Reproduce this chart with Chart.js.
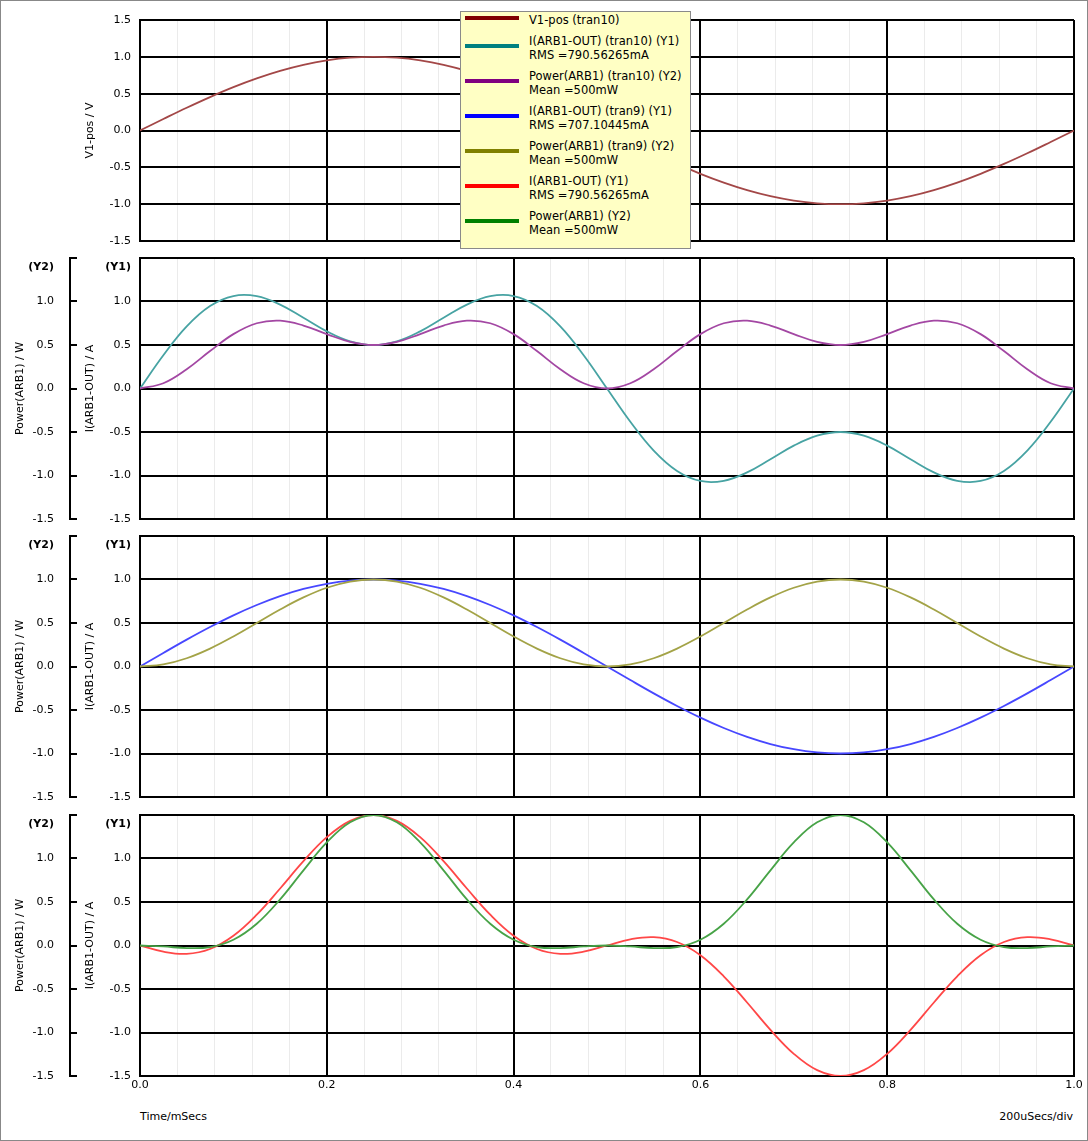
<!DOCTYPE html>
<html>
<head>
<meta charset="utf-8">
<title>ARB1 waveforms</title>
<script src="https://cdn.jsdelivr.net/npm/chart.js@4.4.1/dist/chart.umd.min.js"></script>
<style>
html, body { margin: 0; padding: 0; background: #fff; }
#frame { position: relative; width: 1088px; height: 1141px; overflow: hidden;
         font-family: "DejaVu Sans", Verdana, sans-serif; font-size: 11px; color: #000; }
#edge { position: absolute; left: 0; top: 0; width: 1088px; height: 1141px;
        box-sizing: border-box; border: 1px solid #888; }
.panel { position: absolute; left: 0; }
#legend { position: absolute; left: 460px; top: 11px; width: 231px; height: 238px;
          box-sizing: border-box; background: #ffffc4; border: 1px solid #8a8a8a; z-index: 5;
          font-size: 11.5px; }
#legend .swatch { position: absolute; left: 4px; width: 54px; height: 4px; }
#legend .txt { position: absolute; left: 68px; line-height: 14px; white-space: nowrap; }
.axisnote { position: absolute; top: 1110px; line-height: 14px; }
</style>
</head>
<body>
<div id="frame">
  <div id="edge"></div>
  <canvas id="p1" class="panel" width="1088" height="245" style="top:8px"></canvas>
  <canvas id="p2" class="panel" width="1088" height="285" style="top:246px"></canvas>
  <canvas id="p3" class="panel" width="1088" height="285" style="top:524px"></canvas>
  <canvas id="p4" class="panel" width="1088" height="297" style="top:803px"></canvas>
  <div id="legend"></div>
  <div class="axisnote" style="left:140px">Time/mSecs</div>
  <div class="axisnote" style="right:15px">200uSecs/div</div>
</div>

<script>
/* Data (time in mSecs) */

const time = [0, 0.025, 0.05, 0.075, 0.1, 0.125, 0.15, 0.175, 0.2, 0.225, 0.25, 0.275, 0.3, 0.325, 0.35, 0.375, 0.4, 0.425, 0.45, 0.475, 0.5,
              0.525, 0.55, 0.575, 0.6, 0.625, 0.65, 0.675, 0.7, 0.725, 0.75, 0.775, 0.8, 0.825, 0.85, 0.875, 0.9, 0.925, 0.95, 0.975, 1];

const v1Pos = [0, 0.156, 0.309, 0.454, 0.588, 0.707, 0.809, 0.891, 0.951, 0.988, 1, 0.988, 0.951, 0.891, 0.809, 0.707, 0.588, 0.454, 0.309, 0.156, 0,
               -0.156, -0.309, -0.454, -0.588, -0.707, -0.809, -0.891, -0.951, -0.988, -1, -0.988, -0.951, -0.891, -0.809, -0.707, -0.588, -0.454, -0.309, -0.156, 0];

const iTran10 = [0, 0.383, 0.714, 0.948, 1.063, 1.061, 0.964, 0.813, 0.657, 0.542, 0.5, 0.542, 0.657, 0.813, 0.964, 1.061, 1.063, 0.948, 0.714, 0.383, 0,
                 -0.383, -0.714, -0.948, -1.063, -1.061, -0.964, -0.813, -0.657, -0.542, -0.5, -0.542, -0.657, -0.813, -0.964, -1.061, -1.063, -0.948, -0.714, -0.383, 0];

const pTran10 = [0, 0.060, 0.221, 0.430, 0.625, 0.750, 0.780, 0.724, 0.625, 0.536, 0.5, 0.536, 0.625, 0.724, 0.780, 0.750, 0.625, 0.430, 0.221, 0.060, 0,
                 0.060, 0.221, 0.430, 0.625, 0.750, 0.780, 0.724, 0.625, 0.536, 0.5, 0.536, 0.625, 0.724, 0.780, 0.750, 0.625, 0.430, 0.221, 0.060, 0];

const iTran9 = [0, 0.156, 0.309, 0.454, 0.588, 0.707, 0.809, 0.891, 0.951, 0.988, 1, 0.988, 0.951, 0.891, 0.809, 0.707, 0.588, 0.454, 0.309, 0.156, 0,
                -0.156, -0.309, -0.454, -0.588, -0.707, -0.809, -0.891, -0.951, -0.988, -1, -0.988, -0.951, -0.891, -0.809, -0.707, -0.588, -0.454, -0.309, -0.156, 0];

const pTran9 = [0, 0.024, 0.095, 0.206, 0.345, 0.5, 0.655, 0.794, 0.905, 0.976, 1, 0.976, 0.905, 0.794, 0.655, 0.5, 0.345, 0.206, 0.095, 0.024, 0,
                0.024, 0.095, 0.206, 0.345, 0.5, 0.655, 0.794, 0.905, 0.976, 1, 0.976, 0.905, 0.794, 0.655, 0.5, 0.345, 0.206, 0.095, 0.024, 0];

const iOut = [0, -0.071, -0.096, -0.040, 0.112, 0.354, 0.655, 0.969, 1.245, 1.433, 1.5, 1.433, 1.245, 0.969, 0.655, 0.354, 0.112, -0.040, -0.096, -0.071, 0,
              0.071, 0.096, 0.040, -0.112, -0.354, -0.655, -0.969, -1.245, -1.433, -1.5, -1.433, -1.245, -0.969, -0.655, -0.354, -0.112, 0.040, 0.096, 0.071, 0];

const pOut = [0, -0.011, -0.030, -0.018, 0.066, 0.25, 0.530, 0.864, 1.184, 1.416, 1.5, 1.416, 1.184, 0.864, 0.530, 0.25, 0.066, -0.018, -0.030, -0.011, 0,
              -0.011, -0.030, -0.018, 0.066, 0.25, 0.530, 0.864, 1.184, 1.416, 1.5, 1.416, 1.184, 0.864, 0.530, 0.25, 0.066, -0.018, -0.030, -0.011, 0];

const legendNames = ["V1-pos (tran10)", "I(ARB1-OUT) (tran10) (Y1)", "Power(ARB1) (tran10) (Y2)", "I(ARB1-OUT) (tran9) (Y1)",
                     "Power(ARB1) (tran9) (Y2)", "I(ARB1-OUT) (Y1)", "Power(ARB1) (Y2)"];
const legendStats = ["", "RMS =790.56265mA", "Mean =500mW", "RMS =707.10445mA", "Mean =500mW", "RMS =790.56265mA", "Mean =500mW"];
const legendColors = ["#800000", "#008080", "#800080", "#0000ff", "#808000", "#ff0000", "#008000"];
const traceColors  = ["#a34747", "#47a3a3", "#a347a3", "#4747ff", "#a3a347", "#ff4747", "#47a347"];


/* Defaults */

const FONT = "'DejaVu Sans', Verdana, sans-serif";
Chart.defaults.font.family = FONT;
Chart.defaults.font.size = 11;
Chart.defaults.color = "#000";

const isMajor = v => Math.abs(v * 5 - Math.round(v * 5)) < 1e-6;
const pts = arr => time.map((t, i) => ({ x: t, y: arr[i] }));


/* Scales */

function xScale(showLabels) {
    return {
        type: "linear", min: 0, max: 1,
        border: { color: "#000", width: 2 },
        grid: {
            drawTicks: false,
            color: c => isMajor(c.tick.value) ? "#000" : "#ebebeb",
            lineWidth: c => isMajor(c.tick.value) ? 2 : 1
        },
        ticks: {
            display: showLabels, stepSize: 0.04, autoSkip: false, maxRotation: 0, padding: 3,
            callback: v => isMajor(v) ? v.toFixed(1) : ""
        },
        afterFit: s => { s.height = showLabels ? 20 : 0; s.paddingLeft = 0; s.paddingRight = 0; }
    };
}

function yScale(opts) {
    const tag = opts.tag;
    const top = c => tag && c.tick && c.tick.value === 1.5;
    const s = {
        type: "linear", min: -1.5, max: 1.5, position: "left", weight: opts.weight,
        ticks: {
            stepSize: 0.5, autoSkip: false, padding: opts.pad,
            // the (Y1)/(Y2) tag sits just under the top line, so push it down one line
            callback: v => (tag && v === 1.5) ? ["", tag] : v.toFixed(1),
            font: c => ({ family: FONT, size: 11, weight: top(c) ? "bold" : "normal", lineHeight: top(c) ? 1.6 : 1.2 })
        },
        title: { display: true, text: opts.title, padding: { top: opts.titlePad, bottom: 0 } },
        afterFit: sc => { sc.width = opts.width; sc.paddingTop = 0; sc.paddingBottom = 0; }
    };
    if (opts.outer) {
        s.border = { display: false };
        s.grid = { display: false };
    } else {
        s.border = { color: "#000", width: 2 };
        s.grid = { drawTicks: false, color: "#000", lineWidth: 2 };
    }
    return s;
}

// spine of the Y2 axis with its ticks pointing right
const y2Spine = {
    id: "y2Spine",
    afterDraw(chart) {
        const s = chart.scales.y2;
        if (!s) return;
        const c = chart.ctx;
        const x0 = Math.round(s.right) - 7;
        c.save();
        c.strokeStyle = "#000";
        c.lineWidth = 2;
        c.beginPath();
        c.moveTo(x0, Math.round(s.top) - 1);
        c.lineTo(x0, Math.round(s.bottom) + 1);
        s.ticks.forEach(t => {
            const y = Math.round(s.getPixelForValue(t.value));
            c.moveTo(x0, y);
            c.lineTo(x0 + 7, y);
        });
        c.stroke();
        c.restore();
    }
};

function line(data, color, axis) {
    return {
        data: pts(data), yAxisID: axis, borderColor: color, borderWidth: 1.8,
        pointRadius: 0, tension: 0.4, fill: false
    };
}

function makePanel(id, datasets, twoAxes, lastPanel, bottomPad) {
    const scales = { x: xScale(lastPanel) };
    if (twoAxes) {
        scales.y = yScale({ title: "I(ARB1-OUT) / A", tag: "(Y1)", width: 63, pad: 9, titlePad: 7, weight: 0 });
        scales.y2 = yScale({ title: "Power(ARB1) / W", tag: "(Y2)", width: 77, pad: 15, titlePad: 14, weight: 1, outer: true });
    } else {
        scales.y = yScale({ title: "V1-pos / V", tag: null, width: 140, pad: 9, titlePad: 84, weight: 0 });
    }
    return new Chart(document.getElementById(id), {
        type: "line",
        data: { datasets: datasets },
        options: {
            responsive: false, animation: false, events: [],
            layout: { padding: { top: 12, bottom: bottomPad, left: 0, right: 14 } },
            plugins: { legend: { display: false }, tooltip: { enabled: false } },
            scales: scales
        },
        plugins: [y2Spine]
    });
}


/* Panels */

makePanel("p1", [line(v1Pos, traceColors[0], "y")], false, false, 12);
makePanel("p2", [line(pTran10, traceColors[2], "y2"), line(iTran10, traceColors[1], "y")], true, false, 12);
makePanel("p3", [line(pTran9, traceColors[4], "y2"), line(iTran9, traceColors[3], "y")], true, false, 12);
makePanel("p4", [line(pOut, traceColors[6], "y2"), line(iOut, traceColors[5], "y")], true, true, 4);


/* Legend box */

const legend = document.getElementById("legend");
legendNames.forEach((name, i) => {
    const textTop = i === 0 ? 1 : 22 + 35 * (i - 1);
    const swatch = document.createElement("div");
    swatch.className = "swatch";
    swatch.style.background = legendColors[i];
    swatch.style.top = (i === 0 ? 4 : textTop + 10) + "px";
    legend.appendChild(swatch);
    const txt = document.createElement("div");
    txt.className = "txt";
    txt.style.top = textTop + "px";
    txt.innerHTML = name + (legendStats[i] ? "<br>" + legendStats[i] : "");
    legend.appendChild(txt);
});
</script>
</body>
</html>
